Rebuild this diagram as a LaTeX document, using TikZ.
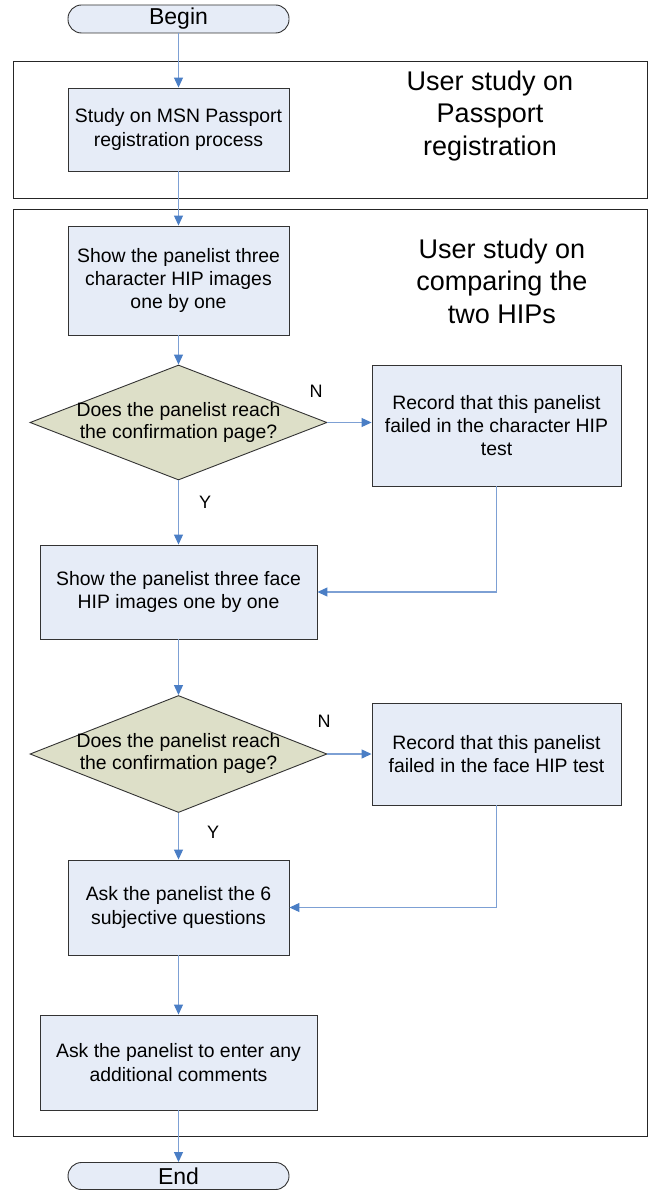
\documentclass[tikz,border=0pt]{standalone}
\usepackage{fontspec}
\setmainfont{Liberation Sans}
\usetikzlibrary{arrows.meta,shapes.geometric}
\definecolor{boxfill}{RGB}{230,236,247}
\definecolor{dfill}{RGB}{221,223,200}
\definecolor{arr}{RGB}{74,126,197}
\definecolor{lin}{RGB}{125,160,212}
\begin{document}
\begin{tikzpicture}[x=1pt,y=-1pt,
  proc/.style={draw=black!80, fill=boxfill, line width=0.9pt, align=center,
    font=\fontsize{19.4}{23.3}\selectfont, inner sep=0pt},
  term/.style={proc, rounded corners=13.5pt, font=\fontsize{23}{26}\selectfont},
  dia/.style={diamond, draw=black!80, fill=dfill, line width=0.9pt, inner sep=0pt,
    minimum width=297pt},
  dtext/.style={align=center, font=\fontsize{19.4}{22}\selectfont, inner sep=0pt},
  group/.style={draw=black!85, line width=0.9pt, inner sep=0pt},
  big/.style={align=center, font=\fontsize{27}{32.5}\selectfont, inner sep=0pt},
  lab/.style={font=\fontsize{18}{20}\selectfont, inner sep=0pt},
  conn/.style={draw=lin, line width=1.1pt, -{Triangle[length=10pt,width=9pt,color=arr]}}
]
\useasboundingbox (0,0) rectangle (648,1190);
\fill[white] (0,0) rectangle (648,1190);

% groups
\node[group, minimum width=634pt, minimum height=137pt] (g1) at (330,129.5) {};
\node[group, minimum width=634pt, minimum height=927pt] (g2) at (330,672.5) {};
\node[big] (g1t) at (490,116) {User study on\\Passport\\registration};
\node[big] (g2t) at (502,281) {User study on\\comparing the\\two HIPs};

% nodes
\node[term, minimum width=221pt, minimum height=28pt] (begin) at (178.5,19) {Begin};
\node[proc, minimum width=221pt, minimum height=83pt] (study) at (178.5,129.5) {Study on MSN Passport\\registration process};
\node[proc, minimum width=221pt, minimum height=109pt] (show1) at (178.5,280.5) {Show the panelist three\\character HIP images\\one by one};
\node[dia, minimum height=115pt] (d1) at (178.5,422.5) {};
\node[dtext] (d1t) at (178.5,422) {Does the panelist reach\\the confirmation page?};
\node[proc, minimum width=249pt, minimum height=121pt] (rec1) at (496.5,425.5) {Record that this panelist\\failed in the character HIP\\test};
\node[proc, minimum width=277pt, minimum height=94pt] (face) at (178.5,592) {Show the panelist three face\\HIP images one by one};
\node[dia, minimum height=117pt] (d2) at (178.5,754) {};
\node[dtext] (d2t) at (178.5,753) {Does the panelist reach\\the confirmation page?};
\node[proc, minimum width=249pt, minimum height=102pt] (rec2) at (496.5,754) {Record that this panelist\\failed in the face HIP test};
\node[proc, minimum width=221pt, minimum height=95pt] (ask) at (178.5,907.5) {Ask the panelist the 6\\subjective questions};
\node[proc, minimum width=277pt, minimum height=95pt] (comm) at (178.5,1062.5) {Ask the panelist to enter any\\additional comments};
\node[term, minimum width=221pt, minimum height=27pt] (end) at (178.5,1176) {End};

% labels
\node[lab] (n1) at (316,391) {N};
\node[lab] (y1) at (205,502) {Y};
\node[lab] (n2) at (324,721) {N};
\node[lab] (y2) at (213,832) {Y};

% connectors
\draw[conn] (begin.south) -- (study.north);
\draw[conn] (study.south) -- (show1.north);
\draw[conn] (show1.south) -- (d1.north);
\draw[conn] (d1.east) -- (d1.east -| rec1.west);
\draw[conn] (d1.south) -- (face.north);
\draw[conn] (rec1.south) |- (face.east);
\draw[conn] (face.south) -- (d2.north);
\draw[conn] (d2.east) -- (d2.east -| rec2.west);
\draw[conn] (d2.south) -- (ask.north);
\draw[conn] (rec2.south) |- (ask.east);
\draw[conn] (ask.south) -- (comm.north);
\draw[conn] (comm.south) -- (end.north);
\end{tikzpicture}
\end{document}
